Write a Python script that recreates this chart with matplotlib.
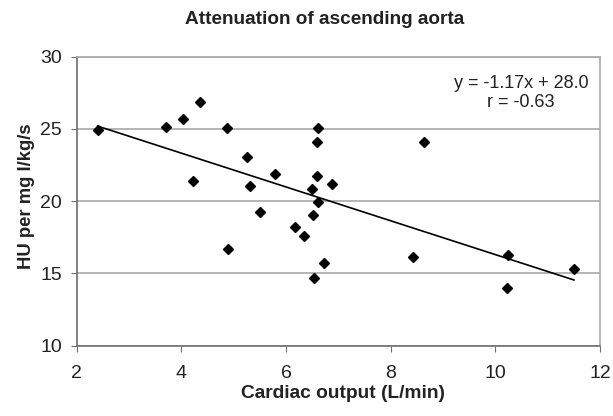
import numpy as np
import matplotlib.pyplot as plt

# =========================
# Data
# =========================
cardiac_output = [2.40, 3.70, 4.04, 4.36, 4.22, 4.87, 5.26, 5.78, 5.31, 6.61,
                  6.60, 6.60, 6.49, 6.88, 6.61, 5.50, 6.52, 6.17, 4.89, 6.35,
                  6.72, 6.54, 8.42, 10.24, 10.23, 11.50, 8.64]
hu_per_mg = [24.93, 25.12, 25.67, 26.87, 21.40, 25.09, 23.04, 21.89, 21.06, 25.07,
             24.08, 21.77, 20.83, 21.20, 19.97, 19.28, 19.07, 18.24, 16.68, 17.60,
             15.75, 14.65, 16.17, 16.29, 13.96, 15.32, 24.12]

slope = -1.17
intercept = 28.0
r_value = -0.63

x_ticks = [2, 4, 6, 8, 10, 12]
y_ticks = [10, 15, 20, 25, 30]

plt.rcParams["font.family"] = ["Liberation Sans", "DejaVu Sans"]
text_color = "#222222"

fig = plt.figure(figsize=(6.13, 4.16), dpi=100)
ax = fig.add_axes([0.125, 0.169, 0.854, 0.695])

# gridlines
ax.set_axisbelow(True)
ax.yaxis.grid(True, color="#a8a8a8", linewidth=1.2)

# scatter
ax.plot(cardiac_output, hu_per_mg, linestyle="none", marker="D",
        markersize=5, color="black")

# trend line over data range
x_fit = np.array([min(cardiac_output), max(cardiac_output)])
ax.plot(x_fit, slope * x_fit + intercept, color="black", linewidth=1.2)

ax.text(0.849, 0.874, f"y = {slope:.2f}x + {intercept:.1f}\nr = {r_value:.2f}",
        transform=ax.transAxes, ha="center", va="center", fontsize=13,
        color=text_color, linespacing=1.1)

ax.set_xlim(2, 12)
ax.set_ylim(10, 30)
ax.set_xticks(x_ticks)
ax.set_yticks(y_ticks)

for side in ["left", "bottom"]:
    ax.spines[side].set_color("#707070")
    ax.spines[side].set_linewidth(1.2)
for side in ["top", "right"]:
    ax.spines[side].set_color("#a8a8a8")
    ax.spines[side].set_linewidth(1.2)

ax.tick_params(axis="both", direction="out", length=4, color="#707070",
               labelsize=14, labelcolor=text_color)
ax.tick_params(axis="x", pad=10)
ax.tick_params(axis="y", pad=6.5)

fig.text(0.53, 0.952, "Attenuation of ascending aorta", fontsize=13.7,
         fontweight="bold", color=text_color, ha="center", va="center")
fig.text(0.560, 0.053, "Cardiac output (L/min)", fontsize=13.8,
         fontweight="bold", color=text_color, ha="center", va="center")
fig.text(0.0436, 0.529, "HU per mg I/kg/s", fontsize=13.3, rotation=90,
         fontweight="bold", color=text_color, ha="center", va="center")

fig.savefig("out.png", dpi=100)
